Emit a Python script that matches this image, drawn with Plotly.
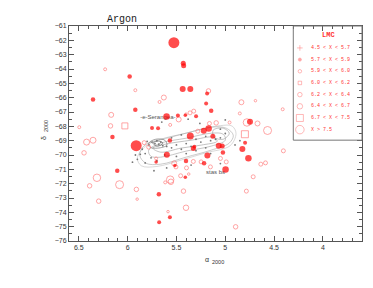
import plotly.graph_objects as go

# ---------------- data ----------------
filled_ra = [5.526, 5.430, 5.426, 5.979, 5.436, 5.358, 6.354, 5.921, 5.601, 5.485,
             5.750, 5.688, 6.155, 5.912, 5.567, 5.358, 5.186, 5.196, 5.144, 5.299,
             4.747, 5.170, 5.220, 5.127, 5.067, 5.031, 5.317, 4.797, 4.825, 5.598,
             6.106, 5.680, 5.677, 5.567, 5.402, 5.409, 5.708, 5.516, 5.327, 5.183,
             5.217, 5.024, 4.997, 4.763, 5.409]
filled_dec = [-62.16, -63.60, -63.77, -64.53, -65.39, -65.39, -66.13, -66.85, -67.31, -67.24,
              -68.11, -68.13, -68.74, -69.35, -68.99, -68.67, -65.71, -66.41, -66.92, -67.29,
              -67.68, -68.15, -68.30, -68.69, -69.35, -69.38, -69.43, -69.15, -69.59, -69.99,
              -71.10, -72.73, -74.70, -74.35, -70.41, -71.56, -70.48, -70.73, -69.54, -70.03,
              -70.57, -69.82, -71.01, -70.22, -67.22]
filled_size = [11, 5, 5, 4.5, 6, 6, 4.5, 4.5, 6.5, 4,
               4, 4, 4.5, 11, 4.5, 7, 4, 4, 4.5, 4,
               6, 6.5, 6, 5, 6, 5, 4, 4, 6, 6,
               4.5, 4.5, 4, 4, 4.5, 3.5, 3.5, 3.5, 5, 6,
               4.5, 4.5, 6.5, 6.5, 3.5]

hollow_ra = [6.230, 5.921, 5.629, 5.673, 6.168, 6.175, 6.028, 6.495, 5.564, 5.477,
             5.361, 6.354, 6.420, 5.830, 5.784, 5.172, 4.835, 4.691, 4.412, 5.323,
             5.402, 4.956, 4.670, 4.567, 4.778, 4.799, 4.851, 5.093, 5.162, 4.405,
             4.636, 4.588, 4.714, 4.784, 5.402, 4.894, 5.152, 5.049, 4.990, 5.327,
             5.397, 5.428, 5.374, 6.446, 6.314, 6.389, 6.082, 6.296, 5.910, 5.902,
             5.564, 5.557, 5.615, 5.586, 5.457, 5.708, 5.523, 5.505, 5.281, 5.247]
hollow_dec = [-64.02, -65.48, -65.99, -66.30, -67.20, -67.97, -67.97, -68.06, -67.90, -67.52,
              -67.06, -68.97, -69.10, -69.14, -69.45, -65.53, -66.32, -66.21, -66.81, -66.94,
              -67.15, -67.73, -67.80, -68.29, -67.73, -68.55, -67.10, -67.76, -67.80, -69.71,
              -70.64, -70.55, -71.52, -72.52, -73.68, -75.01, -70.83, -70.24, -70.48, -70.45,
              -70.90, -72.52, -71.33, -69.85, -71.59, -72.15, -72.07, -73.22, -72.40, -73.08,
              -71.72, -71.87, -71.91, -73.95, -71.45, -70.24, -70.59, -70.83, -68.34, -70.48]
hollow_size = [3, 3, 5, 3, 5, 4.5, 6, 3, 3, 5,
               4, 6, 6, 4, 4, 4.5, 5, 2.5, 3, 4,
               2.5, 3, 5, 8, 7.5, 7, 3, 4.5, 4, 4,
               4, 4, 4, 4, 5.5, 4.5, 4, 4, 4, 4,
               4, 4.5, 2.5, 4.5, 7.5, 4.5, 8, 4.5, 4.5, 2.5,
               7.5, 5.5, 3, 2.5, 4, 3, 5, 4, 4, 4]
hollow_symbol = ["circle-open"] * len(hollow_ra)
hollow_symbol[6] = "square-open"
hollow_symbol[25] = "square-open"

# LMC contour rings (ra, dec vertices)
ring1_ra = [5.876, 5.835, 5.660, 5.402, 5.144, 4.990, 4.918, 4.959, 5.144, 5.402, 5.660, 5.814, 5.876]
ring1_dec = [-70.01, -69.38, -68.90, -68.48, -68.06, -68.13, -68.62, -69.17, -69.66, -70.15, -70.64, -70.57, -70.01]
ring2_ra = [5.784, 5.660, 5.402, 5.144, 5.021, 5.000, 5.144, 5.402, 5.660, 5.763, 5.784]
ring2_dec = [-69.66, -69.17, -68.83, -68.48, -68.55, -68.97, -69.38, -69.73, -70.15, -70.08, -69.66]
ring3_ra = [5.742, 5.608, 5.351, 5.124, 5.083, 5.247, 5.454, 5.660, 5.742]
ring3_dec = [-69.52, -69.24, -68.97, -68.76, -69.04, -69.31, -69.52, -69.80, -69.52]
ring4_ra = [5.784, 5.711, 5.619, 5.598, 5.691, 5.774, 5.784]
ring4_dec = [-69.17, -68.90, -68.97, -69.31, -69.52, -69.45, -69.17]
ring5_ra = [5.742, 5.680, 5.639, 5.691, 5.742]
ring5_dec = [-69.17, -69.03, -69.17, -69.38, -69.17]
ring6_ra = [5.124, 5.021, 4.959, 5.021, 5.113, 5.124]
ring6_dec = [-68.27, -68.13, -68.48, -68.90, -68.76, -68.27]
ring7_ra = [5.90, 5.80, 5.55, 5.30, 5.05, 4.93, 4.89, 4.95, 5.20, 5.45, 5.70, 5.86, 5.90]
ring7_dec = [-70.20, -69.30, -68.75, -68.30, -67.95, -67.98, -68.50, -69.35, -69.85, -70.35, -70.80, -70.75, -70.20]

gray_ra = [5.75, 5.72, 5.70, 5.68, 5.66, 5.78, 5.80, 5.64, 5.60, 5.55, 5.50, 5.45, 5.40,
           5.35, 5.30, 5.25, 5.20, 5.15, 5.10, 5.05, 5.00, 5.85, 5.82, 5.76, 5.70, 5.62,
           5.50, 5.40, 5.30, 5.20, 5.45, 5.55, 5.90, 5.95, 5.60, 5.35, 5.05, 4.90, 4.85,
           5.65, 5.38, 5.26, 5.05, 5.15, 5.92, 5.87, 5.82, 5.73, 5.00]
gray_dec = [-69.10, -69.20, -69.00, -69.25, -69.10, -69.30, -69.05, -69.35, -69.40, -69.50,
            -69.30, -69.60, -69.20, -69.40, -69.70, -69.10, -69.50, -69.00, -68.90, -68.80,
            -68.50, -69.60, -69.90, -70.20, -70.40, -70.00, -70.10, -69.90, -68.90, -68.70,
            -68.60, -68.80, -70.30, -70.50, -70.90, -70.70, -70.60, -69.30, -69.00, -67.70,
            -67.50, -67.80, -68.20, -69.90, -70.00, -69.95, -70.55, -71.10, -67.55]

label_text = ["-e-Serangea-", "stas bs"]
label_ra = [5.69, 5.10]
label_dec = [-67.37, -71.19]

leg_labels = ["4.5 < X < 5.7", "5.7 < X < 5.9", "5.9 < X < 6.0", "6.0 < X < 6.2",
              "6.2 < X < 6.4", "6.4 < X < 6.7", "6.7 < X < 7.5", "X > 7.5"]
leg_symbols = ["cross-thin-open", "circle", "circle-open", "square-open",
               "circle-open", "circle-open", "square-open", "circle-open"]
leg_sizes = [4, 3, 3.5, 3.5, 4.5, 5.5, 7, 8.5]

x_ticks = [6.5, 6, 5.5, 5, 4.5, 4]
y_ticks = list(range(-76, -60))

# ---------------- figure ----------------
fig = go.Figure()
for rx, ry, col in [(ring7_ra, ring7_dec, "#c0c0c0"),
                    (ring1_ra, ring1_dec, "#a8a8a8"), (ring2_ra, ring2_dec, "#a0a0a0"),
                    (ring3_ra, ring3_dec, "#999999"), (ring4_ra, ring4_dec, "#666666"),
                    (ring5_ra, ring5_dec, "#555555"), (ring6_ra, ring6_dec, "#999999")]:
    fig.add_trace(go.Scatter(x=rx, y=ry, mode="lines", line=dict(color=col, width=0.6, shape="spline"),
                             hoverinfo="skip", showlegend=False))
fig.add_trace(go.Scatter(x=gray_ra, y=gray_dec, mode="markers",
                         marker=dict(color="#777777", size=1.8), showlegend=False))
fig.add_trace(go.Scatter(x=label_ra, y=label_dec, mode="text", text=label_text,
                         textfont=dict(family="Liberation Sans", size=6, color="#555555"),
                         showlegend=False))
fig.add_trace(go.Scatter(x=hollow_ra, y=hollow_dec, mode="markers",
                         marker=dict(symbol=hollow_symbol, size=hollow_size, color="#ff8080",
                                     line=dict(color="#ff8080", width=1)),
                         showlegend=False))
fig.add_trace(go.Scatter(x=filled_ra, y=filled_dec, mode="markers",
                         marker=dict(size=filled_size, color="#ff0000", line=dict(width=0)),
                         showlegend=False))

# legend box (drawn with overlay axes)
n = len(leg_labels)
leg_y = [0.898 - i * 0.0543 for i in range(n)]
fig.add_trace(go.Scatter(x=[0.788] * n, y=leg_y, mode="markers", xaxis="x2", yaxis="y2",
                         marker=dict(symbol=leg_symbols, size=leg_sizes, color="#ff8080",
                                     line=dict(color="#ff8080", width=0.8)),
                         showlegend=False))
for lab, yy in zip(leg_labels, leg_y):
    fig.add_annotation(x=0.818, y=yy, xref="paper", yref="paper", text=lab, showarrow=False,
                       xanchor="left", yanchor="middle",
                       font=dict(family="Liberation Mono", size=5, color="#ff3333"))
fig.add_annotation(x=0.884, y=0.957, xref="paper", yref="paper", text="<b>LMC</b>", showarrow=False,
                   xanchor="center", yanchor="middle",
                   font=dict(family="Liberation Mono", size=7, color="#ff3333"))
fig.add_shape(type="rect", xref="paper", yref="paper", x0=0.7655, x1=1.0, y0=0.469, y1=1.0,
              line=dict(color="#777777", width=1))

fig.add_annotation(x=0.181, y=1.031, xref="paper", yref="paper", text="Argon", showarrow=False,
                   xanchor="center", yanchor="middle",
                   font=dict(family="Liberation Mono", size=10, color="#222222"))
# axis titles
fig.add_annotation(x=0.472, y=-0.062, xref="paper", yref="paper", text="α",
                   showarrow=False, xanchor="center", yanchor="top",
                   font=dict(family="Liberation Sans", size=7, color="#333333"))
fig.add_annotation(x=0.51, y=-0.075, xref="paper", yref="paper", text="2000",
                   showarrow=False, xanchor="center", yanchor="top",
                   font=dict(family="Liberation Sans", size=5.5, color="#333333"))
fig.add_annotation(x=-0.085, y=0.48, xref="paper", yref="paper", text="δ",
                   showarrow=False, textangle=-90, xanchor="center", yanchor="middle",
                   font=dict(family="Liberation Sans", size=7, color="#333333"))
fig.add_annotation(x=-0.078, y=0.535, xref="paper", yref="paper", text="2000",
                   showarrow=False, textangle=-90, xanchor="center", yanchor="middle",
                   font=dict(family="Liberation Sans", size=5.5, color="#333333"))

axis_common = dict(showgrid=False, zeroline=False, showline=True, linecolor="#555555", linewidth=1,
                   mirror="ticks", ticks="inside", ticklen=5, tickcolor="#555555", tickwidth=1,
                   tickfont=dict(family="Liberation Sans", size=7, color="#333333"))
# the page body adds an 8px offset, so margins compensate for it
fig.update_layout(
    width=373, height=288,
    margin=dict(l=61, r=19, t=18, b=55),
    paper_bgcolor="white", plot_bgcolor="white",
    xaxis=dict(range=[6.6, 3.6], tickvals=x_ticks,
               minor=dict(dtick=0.1, ticks="inside", ticklen=3, tickcolor="#555555"),
               **axis_common),
    yaxis=dict(range=[-76, -61], tickvals=y_ticks,
               minor=dict(dtick=0.5, ticks="inside", ticklen=3, tickcolor="#555555"),
               **axis_common),
    xaxis2=dict(overlaying="x", range=[0, 1], visible=False),
    yaxis2=dict(overlaying="y", range=[0, 1], visible=False),
)
fig.write_html("out.html")
